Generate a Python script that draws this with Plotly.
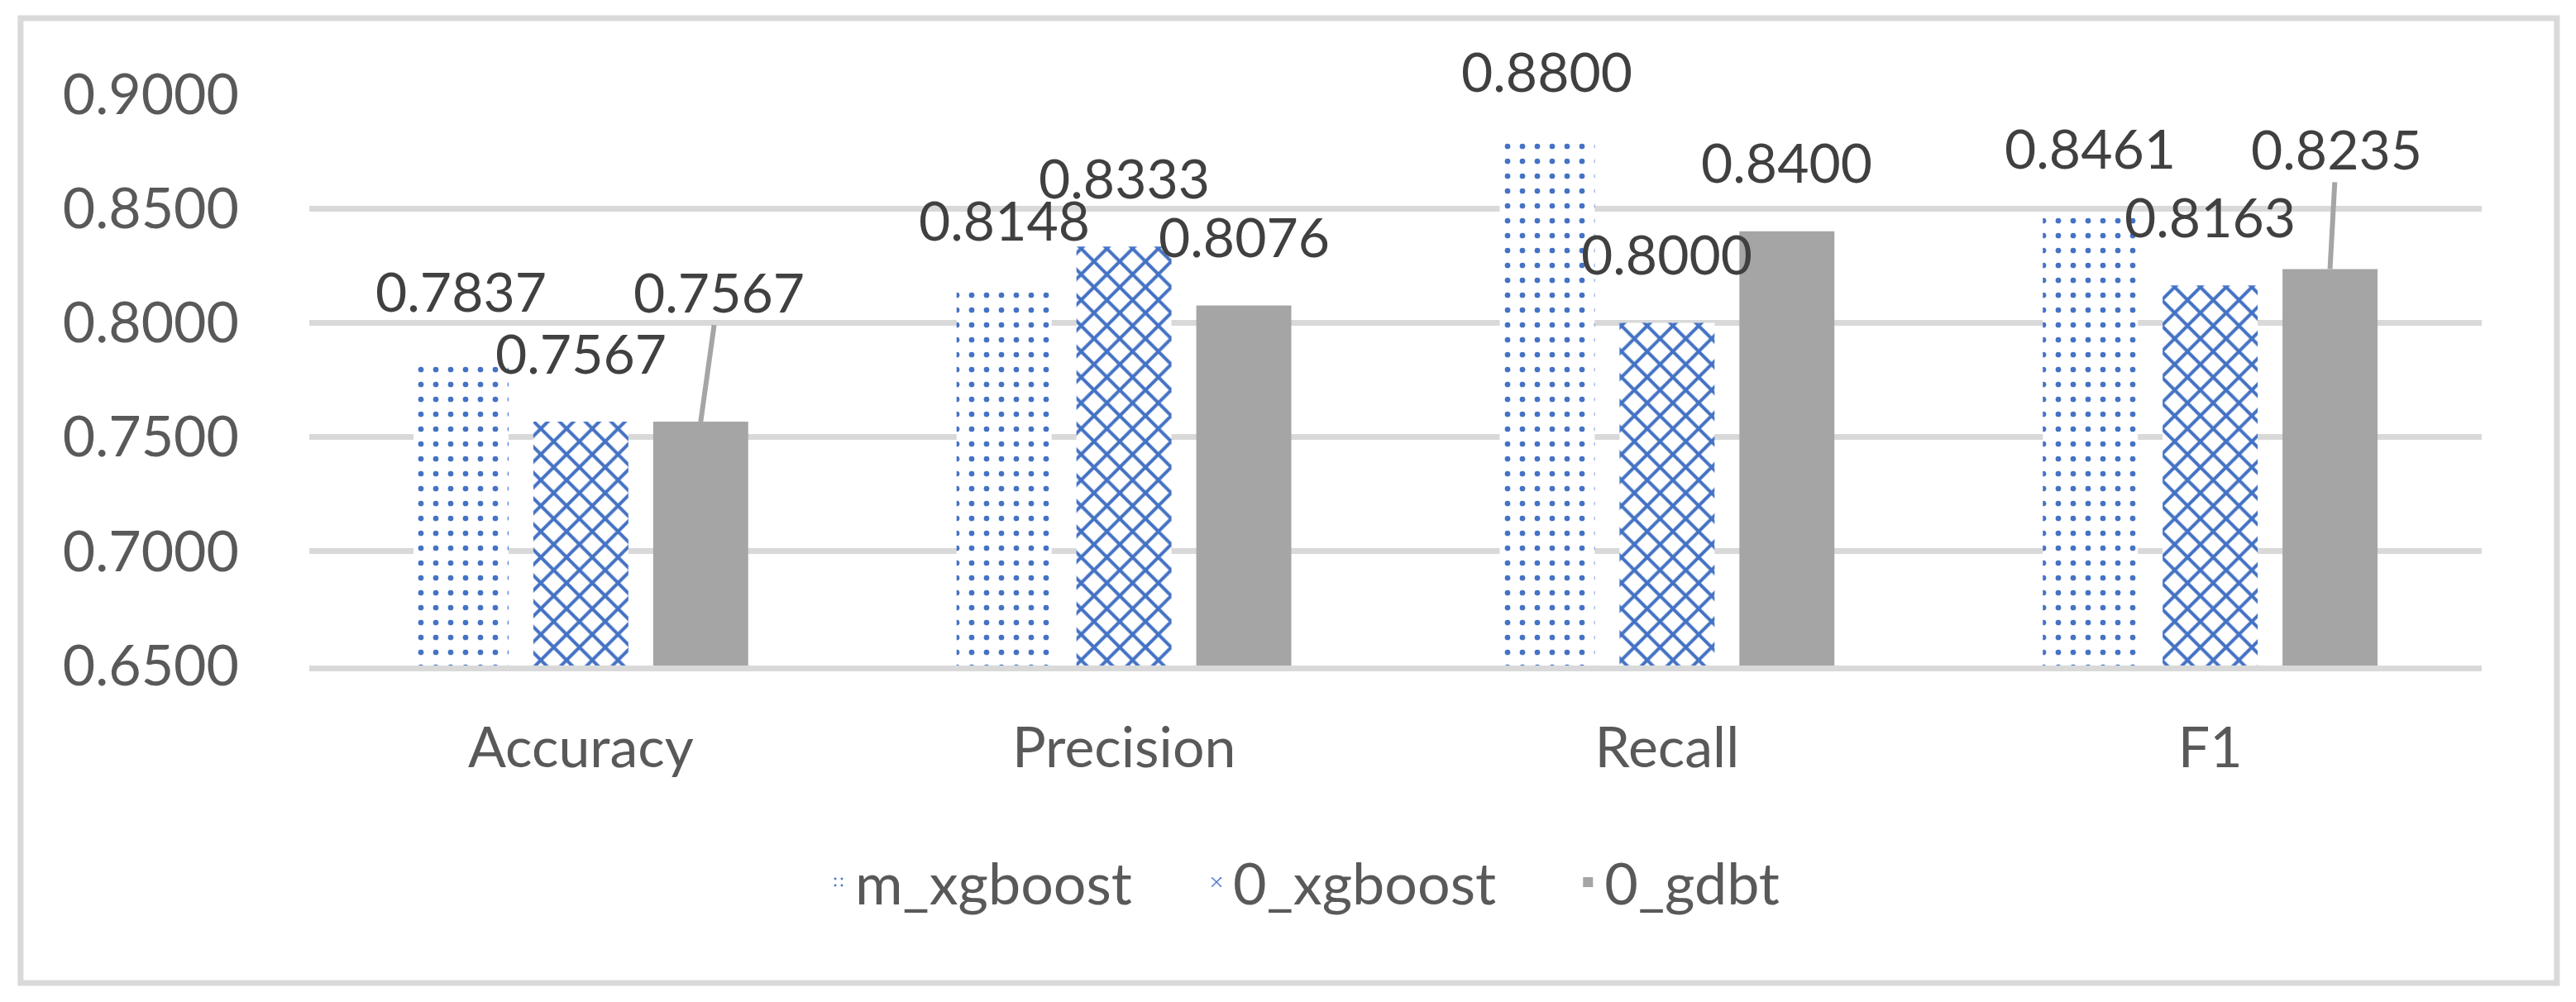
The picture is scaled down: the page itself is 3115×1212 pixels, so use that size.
import plotly.graph_objects as go

metrics = ["Accuracy", "Precision", "Recall", "F1"]
series_names = ["m_xgboost", "0_xgboost", "0_gdbt"]
m_xgboost = [0.7837, 0.8148, 0.8800, 0.8461]
o_xgboost = [0.7567, 0.8333, 0.8000, 0.8163]
o_gdbt = [0.7567, 0.8076, 0.8400, 0.8235]
y_ticks = [0.65, 0.70, 0.75, 0.80, 0.85, 0.90]

BLUE = "#4472C4"
GREY = "#A5A5A5"
GRID = "#D9D9D9"
FONT = "Lato, 'Open Sans', sans-serif"
BARGAP = 0.338

# leader-line labels (pixel offset of label from bar top), everything else sits just above
LEADERS = {(0, 2): (22, -158), (3, 2): (8, -146)}

fig = go.Figure()
fig.add_bar(
    x=metrics, y=m_xgboost, name=series_names[0], legend="legend",
    marker=dict(color="white", line_width=0,
                pattern=dict(shape=".", fgcolor=BLUE, bgcolor="white", size=18, solidity=0.11,
                             fillmode="replace")),
)
fig.add_bar(
    x=metrics, y=o_xgboost, name=series_names[1], legend="legend2",
    marker=dict(color="white", line_width=0,
                pattern=dict(shape="x", fgcolor=BLUE, bgcolor="white", size=22, solidity=0.33,
                             fillmode="replace")),
)
fig.add_bar(x=metrics, y=o_gdbt, name=series_names[2], legend="legend3",
            marker=dict(color=GREY, line_width=0))

slot = (1 - BARGAP) / 3
annotations = []
for k, vals in enumerate([m_xgboost, o_xgboost, o_gdbt]):
    for i, v in enumerate(vals):
        xpos = i + (k - 1) * slot
        common = dict(x=xpos, y=v, xref="x", yref="y", text=f"{v:.4f}",
                      font=dict(family=FONT, size=66, color="#404040"))
        if (i, k) in LEADERS:
            ax, ay = LEADERS[(i, k)]
            annotations.append(dict(**common, showarrow=True, arrowhead=0, arrowwidth=6,
                                    arrowcolor=GREY, ax=ax, ay=ay, standoff=0))
        else:
            annotations.append(dict(**common, showarrow=False, yanchor="middle", yshift=84))

legend_style = dict(xanchor="left", y=-0.379, yanchor="middle", bgcolor="rgba(0,0,0,0)",
                    font=dict(family=FONT, size=70, color="#595959"))

fig.update_layout(
    width=3115,
    height=1212,
    margin=dict(l=374, r=114, t=114, b=407),
    barmode="group",
    bargap=BARGAP,
    bargroupgap=0.207,
    plot_bgcolor="white",
    paper_bgcolor="white",
    font=dict(family=FONT, size=66, color="#595959"),
    annotations=annotations,
    showlegend=True,
    legend=dict(x=0.236, **legend_style),
    legend2=dict(x=0.410, **legend_style),
    legend3=dict(x=0.581, **legend_style),
    shapes=[dict(type="rect", xref="paper", yref="paper",
                 x0=-0.1329, x1=1.0346, y0=-0.5557, y1=1.133,
                 line=dict(color=GRID, width=7), fillcolor="rgba(0,0,0,0)", layer="below")],
)
fig.update_xaxes(showgrid=False, showline=True, linecolor=GRID, linewidth=7,
                 ticks="", ticklabelstandoff=34, tickfont=dict(size=68, color="#595959"))
fig.update_yaxes(range=[0.65, 0.90], tickvals=y_ticks, tickformat=".4f",
                 showgrid=True, gridcolor=GRID, gridwidth=7, zeroline=False, showline=False,
                 ticks="", ticklabelstandoff=84, tickfont=dict(size=68, color="#595959"))

fig.write_html("out.html", config={"displayModeBar": False},
               post_script="document.body.style.margin='0px';")
